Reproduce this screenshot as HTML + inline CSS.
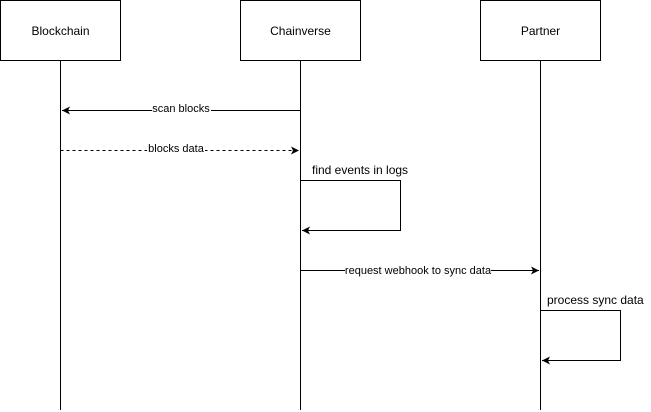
<!DOCTYPE html>
<html><head><meta charset="utf-8"><style>
html,body{margin:0;padding:0;background:#fff;width:651px;height:412px;overflow:hidden}
svg{display:block;font-family:"Liberation Sans",Arial,sans-serif}
</style></head><body>
<svg width="651" height="412" viewBox="0 0 651 412" xmlns="http://www.w3.org/2000/svg">
<defs>
<marker id="a" markerWidth="10" markerHeight="10" refX="8" refY="5" orient="auto" markerUnits="userSpaceOnUse">
<path d="M0,1 L8,5 L0,9 L2,5 Z" fill="#000"/>
</marker>
</defs>
<g stroke="#000" fill="none" stroke-width="1">
<rect x="0.5" y="0.5" width="120" height="60" fill="#fff"/>
<rect x="240.5" y="0.5" width="120" height="60" fill="#fff"/>
<rect x="480.5" y="0.5" width="120" height="60" fill="#fff"/>
<line x1="60.5" y1="61" x2="60.5" y2="410"/>
<line x1="300.5" y1="61" x2="300.5" y2="410"/>
<line x1="540.5" y1="61" x2="540.5" y2="410"/>
<line x1="300.5" y1="110.5" x2="62" y2="110.5" marker-end="url(#a)"/>
<line x1="60.5" y1="150.5" x2="299" y2="150.5" stroke-dasharray="3,3" marker-end="url(#a)"/>
<polyline points="300.5,180.5 400.5,180.5 400.5,230.5 302,230.5" marker-end="url(#a)"/>
<line x1="300.5" y1="270.5" x2="539" y2="270.5" marker-end="url(#a)"/>
<polyline points="540.5,310.5 620.5,310.5 620.5,360.5 542,360.5" marker-end="url(#a)"/>
</g>
<g font-size="12" fill="#000" text-anchor="middle">
<text x="60.5" y="35">Blockchain</text>
<text x="300.5" y="35">Chainverse</text>
<text x="540.5" y="35">Partner</text>
</g>
<g font-size="11" fill="#000" text-anchor="middle">
<rect x="152" y="102" width="59" height="14" fill="#fff"/>
<text x="181" y="112">scan blocks</text>
<rect x="147" y="142" width="58" height="14" fill="#fff"/>
<text x="176" y="152">blocks data</text>
<rect x="345" y="262" width="146" height="14" fill="#fff"/>
<text x="418" y="274">request webhook to sync data</text>
</g>
<g font-size="12" fill="#000">
<text x="312" y="174">find events in logs</text>
<text x="547" y="304">process sync data</text>
</g>
</svg>
</body></html>
